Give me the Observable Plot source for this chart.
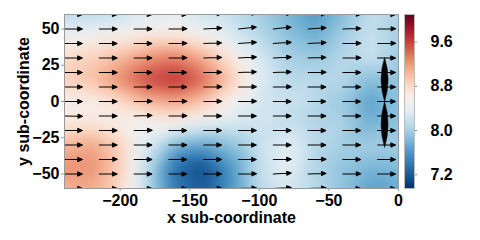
<!DOCTYPE html>
<html><head><meta charset="utf-8">
<script src="https://cdn.jsdelivr.net/npm/d3@7"></script>
<script src="https://cdn.jsdelivr.net/npm/@observablehq/plot@0.6"></script>
<style>
body{margin:0;background:#fff}
#wrap{position:relative;width:480px;height:240px;background:#fff}
#wrap svg{position:absolute;left:0;top:0}
</style></head><body><div id="wrap"></div>
<script>
// heat field sample grid
const fieldX = [-240,-220,-200,-180,-160,-140,-120,-100,-80,-60,-40,-20,0];
const fieldY = [60,45,30,15,0,-15,-30,-45,-60];
const fieldValues = [
  [8.10,8.10,8.15,8.30,8.35,8.20,8.15,8.00,7.80,7.60,7.85,8.15,8.05],
  [8.50,8.55,8.60,8.70,8.70,8.55,8.30,8.10,7.90,7.75,8.00,8.20,8.00],
  [8.80,8.90,9.05,9.25,9.35,9.10,8.70,8.30,8.00,7.95,8.10,8.20,7.95],
  [8.90,9.00,9.30,9.60,9.70,9.45,8.95,8.35,8.10,8.10,8.10,7.85,7.90],
  [8.55,8.60,8.80,9.05,9.15,8.95,8.50,8.25,8.20,8.10,7.95,7.65,7.90],
  [8.65,8.70,8.60,8.50,8.55,8.40,8.30,8.25,8.15,8.05,8.05,7.75,7.90],
  [9.05,9.15,8.90,8.30,7.80,7.70,7.90,8.20,8.40,8.10,8.00,8.00,8.00],
  [9.25,9.25,8.90,8.10,7.30,7.10,7.60,8.15,8.40,8.05,7.90,7.80,7.85],
  [9.05,9.10,8.80,8.10,7.40,7.20,7.60,8.10,8.30,8.10,7.90,7.65,7.75]
];
// quiver grid
const arrowX = [-240,-215,-190,-165,-140,-115,-90,-65,-40,-15];
const arrowY = [60,50,40,30,20,10,0,-10,-20,-30,-40,-50,-60];
const arrowAngles = [ // degrees, counter-clockwise from east
  [0,0,0,0,3,5,4,2,1,0],
  [0,0,0,1,3,6,6,4,2,1],
  [0,0,0,1,2,4,4,3,1,1],
  [0,0,0,1,2,3,3,2,1,0],
  [0,0,0,0,1,2,2,1,0,0],
  [0,0,0,0,1,1,1,0,0,0],
  [0,0,1,1,1,1,0,0,0,0],
  [-1,0,2,1,0,0,0,0,0,0],
  [0,0,1,0,0,0,0,0,0,0],
  [0,0,0,0,0,0,0,0,0,0],
  [0,1,0,0,0,0,1,1,0,0],
  [0,0,0,0,0,1,3,2,1,0],
  [0,0,0,0,1,2,3,2,0,0]
];
// two large vertical spindles near the right edge
const spindleUp = [{x: -10, y: 0}];
const spindleDown = [{x: -10, y: 0}];
const xTicks = [-200,-150,-100,-50,0];
const yTicks = [-50,-25,0,25,50];
const colorDomain = [6.95, 10.1];
const cbTicks = [7.2, 8.0, 8.8, 9.6];

const cells = [];
fieldY.forEach((y, i) => fieldX.forEach((x, j) => cells.push({x, y, v: fieldValues[i][j]})));
const arrows = [];
arrowY.forEach((y, i) => arrowX.forEach((x, j) => arrows.push({x, y, a: arrowAngles[i][j]})));

const arrowShape = {
  draw(ctx, l) {
    const h = 4.5, w = 2;
    ctx.moveTo(0, 0); ctx.lineTo(0, -l + h);
    ctx.moveTo(-w, -l + h); ctx.lineTo(0, -l); ctx.lineTo(w, -l + h); ctx.closePath();
  }
};
const spindleShape = {
  draw(ctx, l) {
    const w = 7;
    ctx.moveTo(0, 0);
    ctx.quadraticCurveTo(w, -l / 2, 0, -l);
    ctx.quadraticCurveTo(-w, -l / 2, 0, 0);
    ctx.closePath();
  }
};

const font = {fontFamily: "'Liberation Sans', Arial, sans-serif", fontWeight: "bold", fontSize: "16px", background: "transparent"};
const colorOpts = {type: "linear", scheme: "RdBu", reverse: true, domain: colorDomain, clamp: true};
const M = {marginTop: 14, marginBottom: 52};

const main = Plot.plot({
  width: 480, height: 240, marginLeft: 64, marginRight: 82, ...M,
  style: font,
  x: {domain: [-240, 0]},
  y: {domain: [-60, 60]},
  color: colorOpts,
  marks: [
    Plot.raster(cells, {x: "x", y: "y", fill: "v", interpolate: "barycentric", x1: -240, x2: 0, y1: -60, y2: 60, blur: 6}),
    Plot.vector(arrows, {x: "x", y: "y", rotate: d => 90 - d.a, length: 18, anchor: "start", shape: arrowShape,
      stroke: "black", fill: "black", strokeWidth: 1, clip: true}),
    Plot.vector(spindleUp, {x: "x", y: "y", rotate: 0, length: 44, anchor: "start", shape: spindleShape,
      stroke: "black", fill: "black", strokeWidth: 0.5}),
    Plot.vector(spindleDown, {x: "x", y: "y", rotate: 180, length: 46, anchor: "start", shape: spindleShape,
      stroke: "black", fill: "black", strokeWidth: 0.5}),
    Plot.frame({stroke: "#999"}),
    Plot.axisX({ticks: xTicks, tickSize: 3, tickPadding: 3, stroke: "#999", fill: "black", label: null}),
    Plot.axisY({ticks: yTicks, tickSize: 3, tickPadding: 2, stroke: "#999", fill: "black", label: null}),
    Plot.text(["x sub-coordinate"], {text: d => d, frameAnchor: "bottom", dy: 34, fontSize: 16, fill: "black"}),
    Plot.text(["y sub-coordinate"], {text: d => d, frameAnchor: "left", textAnchor: "middle", dx: -41, rotate: -90, fontSize: 16, fill: "black"})
  ]
});

const cbar = Plot.plot({
  width: 480, height: 240, marginLeft: 404, marginRight: 66, ...M,
  style: font,
  x: {domain: [0, 1], axis: null},
  y: {domain: colorDomain},
  color: colorOpts,
  marks: [
    Plot.raster({x1: 0, x2: 1, y1: colorDomain[0], y2: colorDomain[1], fill: (x, y) => y, pixelSize: 1}),
    Plot.frame({stroke: "#bbb"}),
    Plot.axisY({anchor: "right", ticks: cbTicks, tickFormat: d => d.toFixed(1), tickSize: 2, tickPadding: 14, stroke: "#888", fill: "black", label: null})
  ]
});

const wrap = document.getElementById("wrap");
wrap.appendChild(main);
wrap.appendChild(cbar);
</script></body></html>
